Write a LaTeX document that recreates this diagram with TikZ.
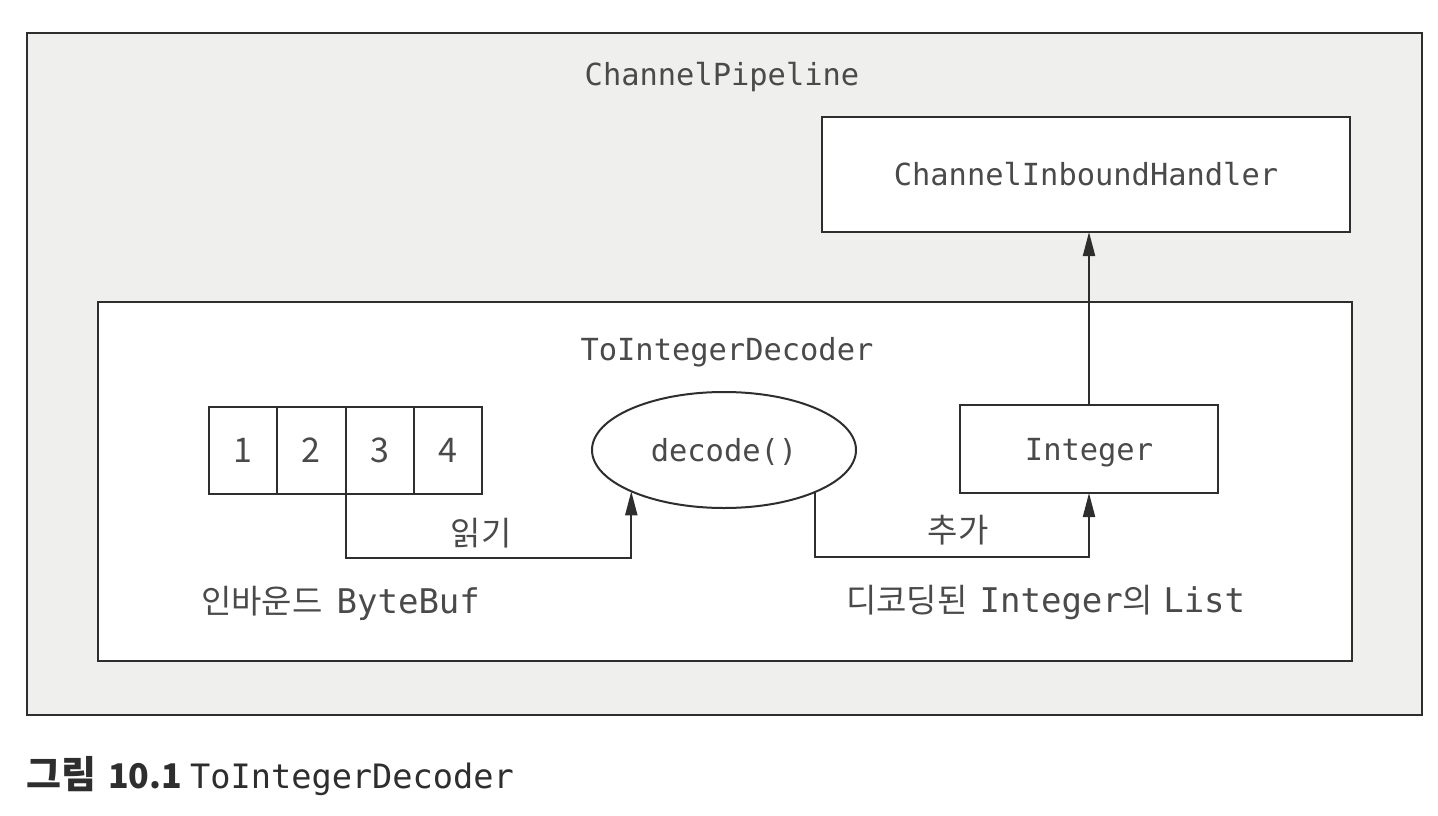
\documentclass[tikz,border=0pt]{standalone}
\usepackage{fontspec}
\usetikzlibrary{shapes.geometric,arrows.meta,calc}
\newfontfamily\monof{DejaVu Sans Mono}
\newfontfamily\krf{Noto Sans CJK KR}
\definecolor{bgfill}{HTML}{EFEFED}
\definecolor{linec}{HTML}{2E2E2E}
\definecolor{txtc}{HTML}{4A4A4A}
\newcommand{\mtext}{\monof\fontsize{30.4}{36}\selectfont}
\newcommand{\mtextL}{\monof\fontsize{34}{40}\selectfont}
\newcommand{\ktext}{\krf\fontsize{33}{40}\selectfont}
\begin{document}
\begin{tikzpicture}[x=1pt,y=-1pt,
  box/.style={draw=linec,line width=2pt,fill=white,inner sep=0pt,outer sep=0pt},
  lbl/.style={text=txtc,inner sep=0pt,outer sep=0pt,font=\mtext},
  klbl/.style={text=txtc,inner sep=0pt,outer sep=0pt,font=\ktext},
  cell/.style={box,minimum width=68.25pt,minimum height=87pt,font=\krf\fontsize{34}{40}\selectfont,text=txtc},
  conn/.style={draw=linec,line width=2pt},
  arr/.style={conn,-{Triangle[length=24pt,width=12pt]}}]
\useasboundingbox (0,0) rectangle (1438,816);
\fill[white] (0,0) rectangle (1438,816);
% outer pipeline
\node[box,fill=bgfill,minimum width=1395pt,minimum height=682pt] (pipe) at (724.5,374) {};
\node[lbl] (pipetxt) at (722,77) {ChannelPipeline};
% inbound handler
\node[box,minimum width=528pt,minimum height=115pt,font=\mtext,text=txtc] (cih) at (1086,174.5) {ChannelInboundHandler};
% decoder box
\node[box,minimum width=1254pt,minimum height=359pt] (decbox) at (725,481.5) {};
\node[lbl] (dectxt) at (727,352) {ToIntegerDecoder};
% ByteBuf cells
\node[cell] (c1) at (243.125,450.5) {1};
\node[cell] (c2) at (311.375,450.5) {2};
\node[cell] (c3) at (379.625,450.5) {3};
\node[cell] (c4) at (447.875,450.5) {4};
% decode ellipse
\node[box,ellipse,minimum width=264pt,minimum height=116pt,font=\mtext,text=txtc,text height=22pt,text depth=0pt] (dec) at (724,450) {decode()};
% Integer box
\node[box,minimum width=258pt,minimum height=88pt,font=\mtext,text=txtc,text height=22pt,text depth=0pt] (int) at (1089,449) {Integer};
% connectors
\draw[arr] (c3.south west) -- ++(0,64) -| (dec.204.3);
\draw[arr] (dec.335.6) -- ++(0,65) -| (int.south);
\draw[arr] (int.north) -- (int.north |- cih.south);
% labels
\node[klbl] (read) at (481,533) {읽기};
\node[klbl] (add) at (958,530) {추가};
\node[text=txtc,inner sep=0pt,anchor=west] (bbuf) at (201,603) {{\ktext 인바운드}\hspace{14pt}{\mtextL ByteBuf}};
\node[text=txtc,inner sep=0pt,anchor=west] (list) at (846,603) {{\ktext 디코딩된}\hspace{12pt}{\mtextL Integer}{\ktext 의}\hspace{10pt}{\mtextL List}};
% caption
\node[inner sep=0pt,anchor=west,text=black!82] (cap) at (26,776) {{\krf\fontsize{38}{44}\selectfont\bfseries 그림}\hspace{12pt}{\krf\fontsize{34}{44}\selectfont\bfseries 10.1}\hspace{8pt}{\monof\fontsize{33.6}{40}\selectfont ToIntegerDecoder}};
\end{tikzpicture}
\end{document}
